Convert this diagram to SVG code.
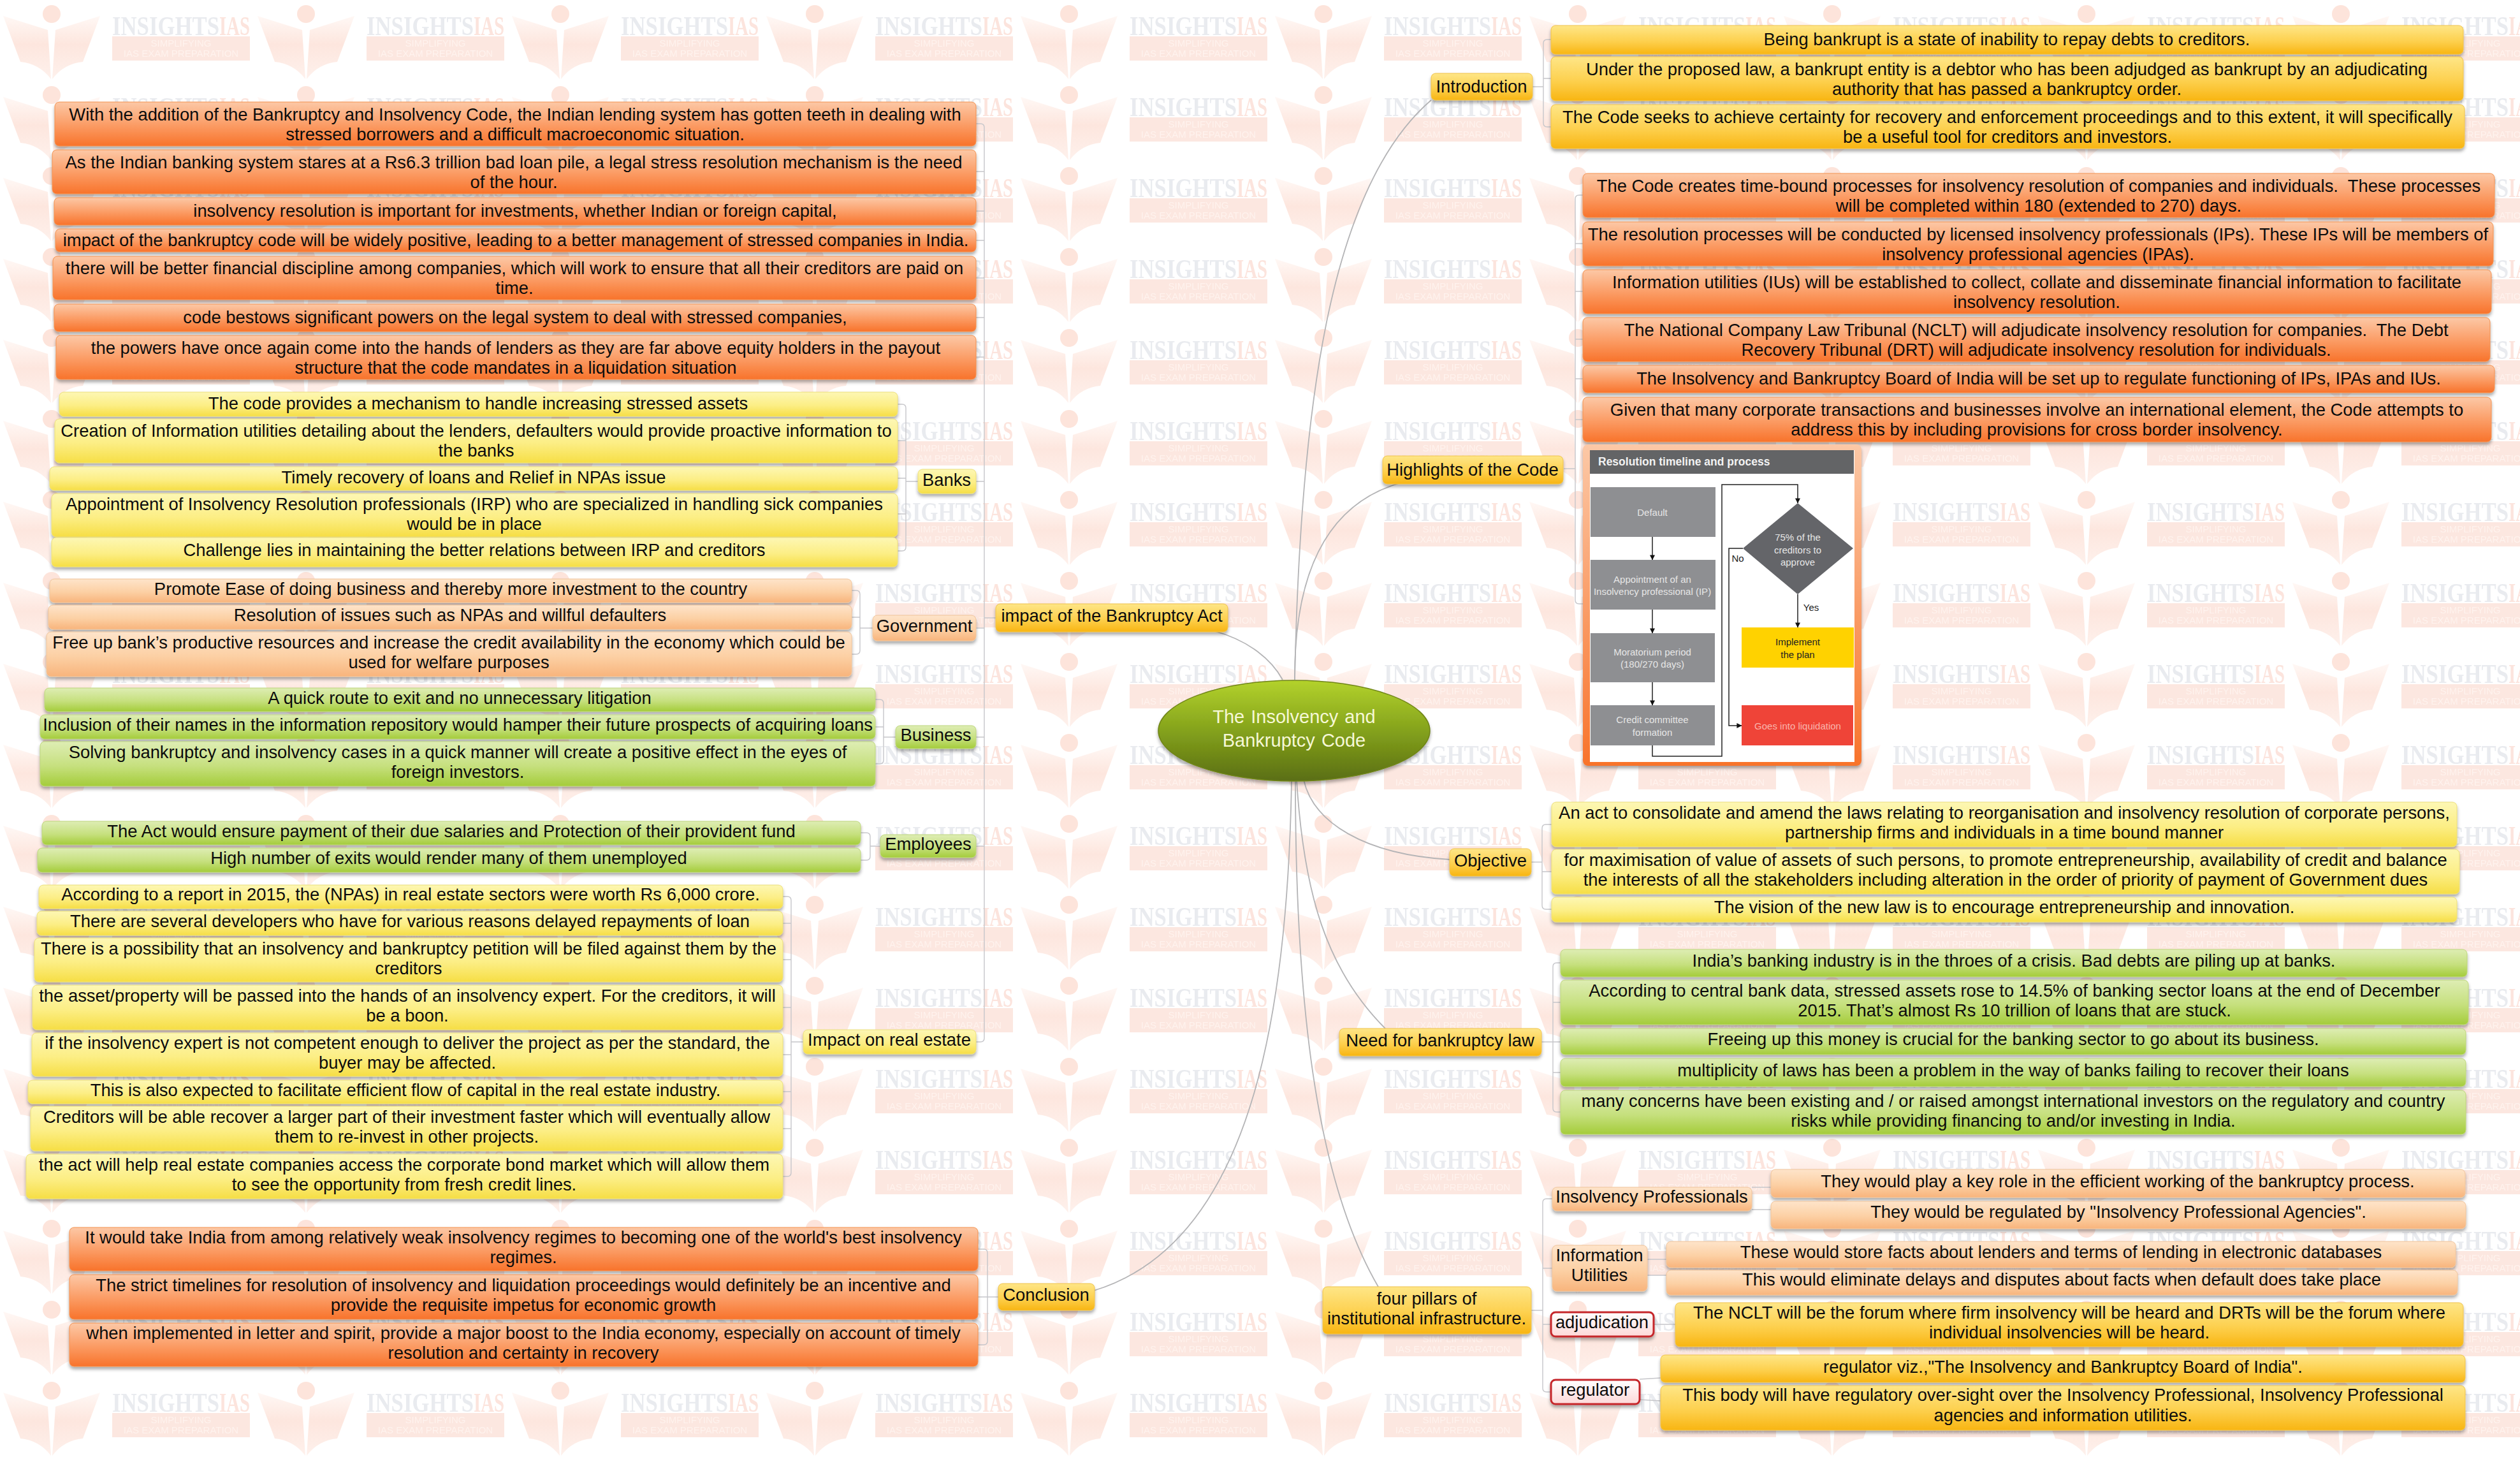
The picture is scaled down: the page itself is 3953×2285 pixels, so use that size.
<svg xmlns="http://www.w3.org/2000/svg" width="3953" height="2285" viewBox="0 0 3953 2285">
<style>
.t{font-family:"Liberation Sans",Arial,sans-serif;font-size:27.4px;text-anchor:middle;fill:#0c0c0c}
.b{filter:url(#sh);stroke-width:1}
.or{fill:url(#gOr);stroke:#f3914f}
.go{fill:url(#gGo);stroke:#efc24a}
.ye{fill:url(#gYe);stroke:#ecdf78}
.pe{fill:url(#gPe);stroke:#f0c49a}
.gr{fill:url(#gGr);stroke:#bcd67a}
.rd{fill:url(#gRd);stroke:#c5262b;stroke-width:3}
.c{fill:none;stroke:#c6c6ca;stroke-width:1.4}
.cv{fill:none;stroke:#b4b4b6;stroke-width:1.8}
.f{font-family:"Liberation Sans",Arial,sans-serif;font-size:15px;text-anchor:middle;fill:#e6e6e6}
.fl{fill:none;stroke:#222;stroke-width:1.5}
</style>
<defs>
<filter id="sh" x="-5%" y="-20%" width="110%" height="150%"><feDropShadow dx="0" dy="4" stdDeviation="2.5" flood-color="#000" flood-opacity=".33"/></filter>
<linearGradient id="gOr" x1="0" y1="0" x2="0" y2="1"><stop offset="0" stop-color="#fcc8a6"/><stop offset=".55" stop-color="#fb9a62"/><stop offset="1" stop-color="#f8732b"/></linearGradient>
<linearGradient id="gGo" x1="0" y1="0" x2="0" y2="1"><stop offset="0" stop-color="#fee687"/><stop offset=".55" stop-color="#fdd04e"/><stop offset="1" stop-color="#f8b512"/></linearGradient>
<linearGradient id="gYe" x1="0" y1="0" x2="0" y2="1"><stop offset="0" stop-color="#fdf7b4"/><stop offset=".55" stop-color="#fcee85"/><stop offset="1" stop-color="#f6de45"/></linearGradient>
<linearGradient id="gPe" x1="0" y1="0" x2="0" y2="1"><stop offset="0" stop-color="#fee4ca"/><stop offset=".55" stop-color="#fcd0a4"/><stop offset="1" stop-color="#f8b47c"/></linearGradient>
<linearGradient id="gGr" x1="0" y1="0" x2="0" y2="1"><stop offset="0" stop-color="#deedb4"/><stop offset=".55" stop-color="#c6e07e"/><stop offset="1" stop-color="#a4cc3a"/></linearGradient>
<linearGradient id="gRd" x1="0" y1="0" x2="0" y2="1"><stop offset="0" stop-color="#fff"/><stop offset="1" stop-color="#fdd8d8"/></linearGradient>
<linearGradient id="gEl" x1="0" y1="0" x2="0" y2="1"><stop offset="0" stop-color="#b3d22c"/><stop offset=".5" stop-color="#84a21c"/><stop offset="1" stop-color="#5a6e12"/></linearGradient>
<linearGradient id="gLogo" x1="0" y1="0" x2="0" y2="1"><stop offset="0" stop-color="#fff8f5"/><stop offset=".45" stop-color="#fde6de"/><stop offset="1" stop-color="#fef1ec"/></linearGradient>
<linearGradient id="gFr" x1="0" y1="0" x2="0" y2="1"><stop offset="0" stop-color="#fcc8a6"/><stop offset="1" stop-color="#f8732b"/></linearGradient>
<marker id="ar" viewBox="0 0 10 10" refX="9.5" refY="5" markerWidth="8" markerHeight="10" markerUnits="userSpaceOnUse" orient="auto"><path d="M0 0L10 5L0 10Z" fill="#111"/></marker>
<pattern id="wm" x="0" y="0" width="399" height="127" patternUnits="userSpaceOnUse">
<circle cx="81" cy="22" r="14" fill="#fde4db"/>
<path d="M5 25L75 47L80 124Q62 100 32 97Z M157 25L87 47L82 124Q100 100 130 97Z" fill="url(#gLogo)"/>
<text x="176" y="55" font-family="Liberation Serif,serif" font-weight="bold" font-size="42" textLength="168" lengthAdjust="spacingAndGlyphs" fill="#e9ebef">INSIGHTS</text>
<text x="344" y="55" font-family="Liberation Serif,serif" font-weight="bold" font-size="42" textLength="48" lengthAdjust="spacingAndGlyphs" fill="#fce4dd">IAS</text>
<rect x="176" y="57" width="216" height="38" fill="#fce7e0"/>
<text x="284" y="73" font-family="Liberation Sans,sans-serif" font-size="15" text-anchor="middle" fill="#fff3ee">SIMPLIFYING</text>
<text x="284" y="89" font-family="Liberation Sans,sans-serif" font-size="15" text-anchor="middle" fill="#fff3ee">IAS EXAM PREPARATION</text>
</pattern>
</defs>
<rect width="3953" height="2285" fill="#fff"/>
<rect id="watermark" width="3953" height="2285" fill="url(#wm)"/>
<g id="connectors">
<path class="cv" d="M2031 1066C2040 620 2090 290 2245 157"/>
<path class="cv" d="M2031 1066C2030 900 2080 790 2198 757"/>
<path class="cv" d="M2012 1066C1995 1035 1960 1005 1906 990"/>
<path class="cv" d="M2045 1223C2060 1290 2140 1340 2274 1348"/>
<path class="cv" d="M2034 1224C2045 1400 2080 1520 2173 1613"/>
<path class="cv" d="M2032 1224C2032 1600 2070 1860 2162 2018"/>
<path class="cv" d="M2026 1224C2020 1600 1960 1950 1716 2024"/>
<path class="c" d="M1562 969H1544M1531 194H1538Q1544 194 1544 200V1628Q1544 1634 1538 1634H1531M1531 269H1544M1531 331H1544M1531 377H1544M1531 436H1544M1531 498H1544M1531 560H1544M1531 755H1544M1531 985H1544M1531 1156H1544M1531 1327H1544"/>
<path class="c" d="M1440 755H1421M1408 634H1415Q1421 634 1421 640V858Q1421 864 1415 864H1408M1408 691H1421M1408 750H1421M1408 806H1421"/>
<path class="c" d="M1369 985H1349M1336 926H1343Q1349 926 1349 932V1020Q1349 1026 1343 1026H1336M1336 968H1349"/>
<path class="c" d="M1405 1156H1386M1373 1097H1380Q1386 1097 1386 1103V1192Q1386 1198 1380 1198H1373M1373 1140H1386"/>
<path class="c" d="M1381 1327H1365M1350 1306H1359Q1365 1306 1365 1312V1343Q1365 1349 1359 1349H1350"/>
<path class="c" d="M1260 1634H1241M1228 1406H1235Q1241 1406 1241 1412V1839Q1241 1845 1235 1845H1228M1228 1448H1241M1228 1505H1241M1228 1580H1241M1228 1654H1241M1228 1712H1241M1228 1770H1241"/>
<path class="c" d="M1566 2034H1549M1534 1959H1543Q1549 1959 1549 1965V2103Q1549 2109 1543 2109H1534M1534 2034H1549"/>
<path class="c" d="M2404 136H2421M2433 62H2427Q2421 62 2421 68V193Q2421 199 2427 199H2433M2433 123H2421"/>
<path class="c" d="M2453 735H2471M2483 306H2477Q2471 306 2471 312V941Q2471 947 2477 947H2483M2483 382H2471M2483 457H2471M2483 532H2471M2483 594H2471M2483 658H2471"/>
<path class="c" d="M2402 1352H2419M2434 1293H2425Q2419 1293 2419 1299V1420Q2419 1426 2425 1426H2434M2434 1367H2419"/>
<path class="c" d="M2418 1634H2448M2448 1510H2442Q2436 1510 2436 1516V1738Q2436 1744 2442 1744H2448M2448 1572H2436M2448 1682H2436"/>
<path class="c" d="M2402 2055H2420M2435 1880H2426Q2420 1880 2420 1886V2177Q2420 2183 2426 2183H2433M2435 1989H2420M2433 2077H2420"/>
<path class="c" d="M2748 1862H2778M2748 1897H2778M2584 1975H2614M2584 2000H2614M2594 2077H2628M2572 2163L2605 2161M2572 2195L2605 2197"/>
</g>
<g id="impact-items">
<g id="i1"><rect class="b or" x="86" y="160" width="1445" height="69" rx="7"/><text class="t" x="808" y="189">With the addition of the Bankruptcy and Insolvency Code, the Indian lending system has gotten teeth in dealing with<tspan x="808" y="220">stressed borrowers and a difficult macroeconomic situation.</tspan></text></g>
<g id="i2"><rect class="b or" x="82" y="235" width="1449" height="69" rx="7"/><text class="t" x="806" y="264">As the Indian banking system stares at a Rs6.3 trillion bad loan pile, a legal stress resolution mechanism is the need<tspan x="806" y="295">of the hour.</tspan></text></g>
<g id="i3"><rect class="b or" x="85" y="310" width="1446" height="43" rx="7"/><text class="t" x="808" y="340">insolvency resolution is important for investments, whether Indian or foreign capital,</text></g>
<g id="i4"><rect class="b or" x="87" y="359" width="1444" height="36" rx="7"/><text class="t" x="809" y="386">impact of the bankruptcy code will be widely positive, leading to a better management of stressed companies in India.</text></g>
<g id="i5"><rect class="b or" x="83" y="402" width="1448" height="68" rx="7"/><text class="t" x="807" y="430">there will be better financial discipline among companies, which will work to ensure that all their creditors are paid on<tspan x="807" y="461">time.</tspan></text></g>
<g id="i6"><rect class="b or" x="85" y="477" width="1446" height="43" rx="7"/><text class="t" x="808" y="507">code bestows significant powers on the legal system to deal with stressed companies,</text></g>
<g id="i7"><rect class="b or" x="88" y="526" width="1443" height="69" rx="7"/><text class="t" x="809" y="555">the powers have once again come into the hands of lenders as they are far above equity holders in the payout<tspan x="809" y="586">structure that the code mandates in a liquidation situation</tspan></text></g>
</g>
<g id="banks">
<g id="banks-node"><rect class="b ye" x="1440" y="736" width="91" height="38" rx="7"/><text class="t" x="1485" y="762">Banks</text></g>
<g id="b1"><rect class="b ye" x="93" y="615" width="1315" height="38" rx="7"/><text class="t" x="750" y="642">The code provides a mechanism to handle increasing stressed assets</text></g>
<g id="b2"><rect class="b ye" x="86" y="657" width="1322" height="69" rx="7"/><text class="t" x="747" y="685">Creation of Information utilities detailing about the lenders, defaulters would provide proactive information to<tspan x="747" y="716">the banks</tspan></text></g>
<g id="b3"><rect class="b ye" x="78" y="732" width="1330" height="37" rx="7"/><text class="t" x="743" y="758">Timely recovery of loans and Relief in NPAs issue</text></g>
<g id="b4"><rect class="b ye" x="81" y="774" width="1327" height="68" rx="7"/><text class="t" x="744" y="800">Appointment of Insolvency Resolution professionals (IRP) who are specialized in handling sick companies<tspan x="744" y="831">would be in place</tspan></text></g>
<g id="b5"><rect class="b ye" x="81" y="843" width="1327" height="46" rx="7"/><text class="t" x="744" y="872">Challenge lies in maintaining the better relations between IRP and creditors</text></g>
</g>
<g id="government">
<g id="gov-node"><rect class="b pe" x="1369" y="965" width="162" height="40" rx="7"/><text class="t" x="1450" y="991">Government</text></g>
<g id="g1"><rect class="b pe" x="78" y="908" width="1258" height="37" rx="7"/><text class="t" x="707" y="933">Promote Ease of doing business and thereby more investment to the country</text></g>
<g id="g2"><rect class="b pe" x="76" y="949" width="1260" height="38" rx="7"/><text class="t" x="706" y="974">Resolution of issues such as NPAs and willful defaulters</text></g>
<g id="g3"><rect class="b pe" x="73" y="991" width="1263" height="70" rx="7"/><text class="t" x="704" y="1017">Free up bank’s productive resources and increase the credit availability in the economy which could be<tspan x="704" y="1048">used for welfare purposes</tspan></text></g>
</g>
<g id="business">
<g id="bus-node"><rect class="b gr" x="1405" y="1138" width="126" height="36" rx="7"/><text class="t" x="1468" y="1162">Business</text></g>
<g id="u1"><rect class="b gr" x="70" y="1079" width="1303" height="37" rx="7"/><text class="t" x="721" y="1104">A quick route to exit and no unnecessary litigation</text></g>
<g id="u2"><rect class="b gr" x="63" y="1121" width="1310" height="38" rx="7"/><text class="t" x="718" y="1146">Inclusion of their names in the information repository would hamper their future prospects of acquiring loans</text></g>
<g id="u3"><rect class="b gr" x="63" y="1163" width="1310" height="70" rx="7"/><text class="t" x="718" y="1189">Solving bankruptcy and insolvency cases in a quick manner will create a positive effect in the eyes of<tspan x="718" y="1220">foreign investors.</tspan></text></g>
</g>
<g id="employees">
<g id="emp-node"><rect class="b gr" x="1381" y="1309" width="150" height="36" rx="7"/><text class="t" x="1456" y="1333">Employees</text></g>
<g id="e1"><rect class="b gr" x="66" y="1288" width="1284" height="37" rx="7"/><text class="t" x="708" y="1313">The Act would ensure payment of their due salaries and Protection of their provident fund</text></g>
<g id="e2"><rect class="b gr" x="59" y="1330" width="1291" height="38" rx="7"/><text class="t" x="704" y="1355">High number of exits would render many of them unemployed</text></g>
</g>
<g id="real-estate">
<g id="re-node"><rect class="b ye" x="1260" y="1615" width="271" height="38" rx="7"/><text class="t" x="1395" y="1640">Impact on real estate</text></g>
<g id="r1"><rect class="b ye" x="61" y="1388" width="1167" height="37" rx="7"/><text class="t" x="644" y="1412">According to a report in 2015, the (NPAs) in real estate sectors were worth Rs 6,000 crore.</text></g>
<g id="r2"><rect class="b ye" x="58" y="1429" width="1170" height="38" rx="7"/><text class="t" x="643" y="1454">There are several developers who have for various reasons delayed repayments of loan</text></g>
<g id="r3"><rect class="b ye" x="54" y="1471" width="1174" height="69" rx="7"/><text class="t" x="641" y="1497">There is a possibility that an insolvency and bankruptcy petition will be filed against them by the<tspan x="641" y="1528">creditors</tspan></text></g>
<g id="r4"><rect class="b ye" x="51" y="1545" width="1177" height="70" rx="7"/><text class="t" x="639" y="1571">the asset/property will be passed into the hands of an insolvency expert. For the creditors, it will<tspan x="639" y="1602">be a boon.</tspan></text></g>
<g id="r5"><rect class="b ye" x="50" y="1620" width="1178" height="68" rx="7"/><text class="t" x="639" y="1645">if the insolvency expert is not competent enough to deliver the project as per the standard, the<tspan x="639" y="1676">buyer may be affected.</tspan></text></g>
<g id="r6"><rect class="b ye" x="44" y="1694" width="1184" height="37" rx="7"/><text class="t" x="636" y="1719">This is also expected to facilitate efficient flow of capital in the real estate industry.</text></g>
<g id="r7"><rect class="b ye" x="48" y="1735" width="1180" height="70" rx="7"/><text class="t" x="638" y="1761">Creditors will be able recover a larger part of their investment faster which will eventually allow<tspan x="638" y="1792">them to re-invest in other projects.</tspan></text></g>
<g id="r8"><rect class="b ye" x="41" y="1810" width="1187" height="70" rx="7"/><text class="t" x="634" y="1836">the act will help real estate companies access the corporate bond market which will allow them<tspan x="634" y="1867">to see the opportunity from fresh credit lines.</tspan></text></g>
</g>
<g id="impact-node"><rect class="b go" x="1562" y="947" width="364" height="44" rx="7"/><text class="t" x="1744" y="975">impact of the Bankruptcy Act</text></g>
<g id="conclusion">
<g id="con-node"><rect class="b go" x="1566" y="2013" width="151" height="42" rx="7"/><text class="t" x="1641" y="2040">Conclusion</text></g>
<g id="c1"><rect class="b or" x="109" y="1925" width="1425" height="68" rx="7"/><text class="t" x="821" y="1950">It would take India from among relatively weak insolvency regimes to becoming one of the world's best insolvency<tspan x="821" y="1981">regimes.</tspan></text></g>
<g id="c2"><rect class="b or" x="109" y="1999" width="1425" height="70" rx="7"/><text class="t" x="821" y="2025">The strict timelines for resolution of insolvency and liquidation proceedings would definitely be an incentive and<tspan x="821" y="2056">provide the requisite impetus for economic growth</tspan></text></g>
<g id="c3"><rect class="b or" x="109" y="2075" width="1425" height="68" rx="7"/><text class="t" x="821" y="2100">when implemented in letter and spirit, provide a major boost to the India economy, especially on account of timely<tspan x="821" y="2131">resolution and certainty in recovery</tspan></text></g>
</g>
<g id="introduction">
<g id="intro-node"><rect class="b go" x="2245" y="115" width="159" height="42" rx="7"/><text class="t" x="2324" y="145">Introduction</text></g>
<g id="n1"><rect class="b go" x="2433" y="40" width="1431" height="45" rx="7"/><text class="t" x="3148" y="71">Being bankrupt is a state of inability to repay debts to creditors.</text></g>
<g id="n2"><rect class="b go" x="2433" y="89" width="1431" height="69" rx="7"/><text class="t" x="3148" y="118">Under the proposed law, a bankrupt entity is a debtor who has been adjudged as bankrupt by an adjudicating<tspan x="3148" y="149">authority that has passed a bankruptcy order.</tspan></text></g>
<g id="n3"><rect class="b go" x="2433" y="164" width="1433" height="69" rx="7"/><text class="t" x="3149" y="193">The Code seeks to achieve certainty for recovery and enforcement proceedings and to this extent, it will specifically<tspan x="3149" y="224">be a useful tool for creditors and investors.</tspan></text></g>
</g>
<g id="highlights">
<g id="hl-node"><rect class="b go" x="2169" y="715" width="283" height="44" rx="7"/><text class="t" x="2310" y="746">Highlights of the Code</text></g>
<g id="h1"><rect class="b or" x="2483" y="272" width="1430" height="69" rx="7"/><text class="t" x="3198" y="301" xml:space="preserve">The Code creates time-bound processes for insolvency resolution of companies and individuals.  These processes<tspan x="3198" y="332">will be completed within 180 (extended to 270) days.</tspan></text></g>
<g id="h2"><rect class="b or" x="2483" y="348" width="1428" height="69" rx="7"/><text class="t" x="3197" y="377">The resolution processes will be conducted by licensed insolvency professionals (IPs). These IPs will be members of<tspan x="3197" y="408">insolvency professional agencies (IPAs).</tspan></text></g>
<g id="h3"><rect class="b or" x="2483" y="423" width="1425" height="69" rx="7"/><text class="t" x="3195" y="452">Information utilities (IUs) will be established to collect, collate and disseminate financial information to facilitate<tspan x="3195" y="483">insolvency resolution.</tspan></text></g>
<g id="h4"><rect class="b or" x="2483" y="498" width="1423" height="69" rx="7"/><text class="t" x="3194" y="527" xml:space="preserve">The National Company Law Tribunal (NCLT) will adjudicate insolvency resolution for companies.  The Debt<tspan x="3194" y="558">Recovery Tribunal (DRT) will adjudicate insolvency resolution for individuals.</tspan></text></g>
<g id="h5"><rect class="b or" x="2483" y="573" width="1430" height="43" rx="7"/><text class="t" x="3198" y="603">The Insolvency and Bankruptcy Board of India will be set up to regulate functioning of IPs, IPAs and IUs.</text></g>
<g id="h6"><rect class="b or" x="2483" y="623" width="1425" height="70" rx="7"/><text class="t" x="3195" y="652">Given that many corporate transactions and businesses involve an international element, the Code attempts to<tspan x="3195" y="683">address this by including provisions for cross border insolvency.</tspan></text></g>
<g id="flowchart">
<rect x="2483" y="697" width="437" height="504" rx="8" fill="url(#gFr)" filter="url(#sh)"/>
<rect x="2494" y="706" width="415" height="489" fill="#fff"/>
<rect x="2494" y="706" width="414" height="37" fill="#636466"/>
<text x="2507" y="730" font-family="Liberation Sans,sans-serif" font-size="17.5" font-weight="bold" fill="#f2f2f2">Resolution timeline and process</text>
<g fill="#8e8f92"><rect x="2495" y="764" width="196" height="78"/><rect x="2495" y="878" width="196" height="78"/><rect x="2495" y="993" width="195" height="77"/><rect x="2495" y="1106" width="195" height="63"/></g>
<path d="M2820 789L2907 860L2820 932L2734 860Z" fill="#646569"/>
<rect x="2732" y="984" width="176" height="63" fill="#ffd200"/>
<rect x="2732" y="1106" width="175" height="63" fill="#ef4438"/>
<path class="fl" marker-end="url(#ar)" d="M2592 842V878"/>
<path class="fl" marker-end="url(#ar)" d="M2592 956V993"/>
<path class="fl" marker-end="url(#ar)" d="M2592 1070V1106"/>
<path class="fl" marker-end="url(#ar)" d="M2592 1169V1186H2701V760H2820V789"/>
<path class="fl" marker-end="url(#ar)" d="M2820 932V984"/>
<path class="fl" marker-end="url(#ar)" d="M2734 860H2712V1138H2732"/>
<text class="f" x="2592" y="809">Default</text>
<text class="f" x="2592" y="914">Appointment of an<tspan x="2592" y="933">Insolvency professional (IP)</tspan></text>
<text class="f" x="2592" y="1028">Moratorium period<tspan x="2592" y="1047">(180/270 days)</tspan></text>
<text class="f" x="2592" y="1134">Credit committee<tspan x="2592" y="1154">formation</tspan></text>
<text class="f" x="2820" y="848">75% of the<tspan x="2820" y="868">creditors to</tspan><tspan x="2820" y="887">approve</tspan></text>
<text class="f" x="2820" y="1012" style="fill:#222">Implement<tspan x="2820" y="1032">the plan</tspan></text>
<text class="f" x="2820" y="1144" style="fill:#f9b4ac">Goes into liquidation</text>
<text class="f" x="2726" y="881" style="fill:#222">No</text>
<text class="f" x="2841" y="958" style="fill:#222">Yes</text>
</g>
</g>
<g id="objective">
<g id="obj-node"><rect class="b go" x="2274" y="1331" width="128" height="43" rx="7"/><text class="t" x="2338" y="1359">Objective</text></g>
<g id="o1"><rect class="b ye" x="2434" y="1258" width="1420" height="70" rx="7"/><text class="t" x="3144" y="1284">An act to consolidate and amend the laws relating to reorganisation and insolvency resolution of corporate persons,<tspan x="3144" y="1315">partnership firms and individuals in a time bound manner</tspan></text></g>
<g id="o2"><rect class="b ye" x="2434" y="1332" width="1424" height="70" rx="7"/><text class="t" x="3146" y="1358">for maximisation of value of assets of such persons, to promote entrepreneurship, availability of credit and balance<tspan x="3146" y="1389">the interests of all the stakeholders including alteration in the order of priority of payment of Government dues</tspan></text></g>
<g id="o3"><rect class="b ye" x="2434" y="1407" width="1420" height="39" rx="7"/><text class="t" x="3144" y="1432">The vision of the new law is to encourage entrepreneurship and innovation.</text></g>
</g>
<g id="need">
<g id="need-node"><rect class="b go" x="2101" y="1613" width="317" height="43" rx="7"/><text class="t" x="2259" y="1641">Need for bankruptcy law</text></g>
<g id="d1"><rect class="b gr" x="2448" y="1489" width="1422" height="43" rx="7"/><text class="t" x="3159" y="1516">India’s banking industry is in the throes of a crisis. Bad debts are piling up at banks.</text></g>
<g id="d2"><rect class="b gr" x="2448" y="1537" width="1424" height="70" rx="7"/><text class="t" x="3160" y="1563">According to central bank data, stressed assets rose to 14.5% of banking sector loans at the end of December<tspan x="3160" y="1594">2015. That’s almost Rs 10 trillion of loans that are stuck.</tspan></text></g>
<g id="d3"><rect class="b gr" x="2448" y="1613" width="1420" height="41" rx="7"/><text class="t" x="3158" y="1639">Freeing up this money is crucial for the banking sector to go about its business.</text></g>
<g id="d4"><rect class="b gr" x="2448" y="1660" width="1420" height="44" rx="7"/><text class="t" x="3158" y="1688">multiplicity of laws has been a problem in the way of banks failing to recover their loans</text></g>
<g id="d5"><rect class="b gr" x="2448" y="1710" width="1420" height="69" rx="7"/><text class="t" x="3158" y="1736">many concerns have been existing and / or raised amongst international investors on the regulatory and country<tspan x="3158" y="1767">risks while providing financing to and/or investing in India.</tspan></text></g>
</g>
<g id="pillars">
<g id="pil-node"><rect class="b go" x="2075" y="2018" width="327" height="74" rx="7"/><text class="t" x="2238" y="2046">four pillars of<tspan x="2238" y="2077">institutional infrastructure.</tspan></text></g>
<g id="p-ip"><rect class="b pe" x="2435" y="1862" width="313" height="37" rx="7"/><text class="t" x="2591" y="1886">Insolvency Professionals</text></g>
<g id="p1"><rect class="b pe" x="2778" y="1834" width="1089" height="44" rx="7"/><text class="t" x="3322" y="1862">They would play a key role in the efficient working of the bankruptcy process.</text></g>
<g id="p2"><rect class="b pe" x="2778" y="1884" width="1090" height="43" rx="7"/><text class="t" x="3323" y="1910">They would be regulated by "Insolvency Professional Agencies".</text></g>
<g id="p-iu"><rect class="b pe" x="2435" y="1953" width="149" height="72" rx="7"/><text class="t" x="2509" y="1978">Information<tspan x="2509" y="2009">Utilities</tspan></text></g>
<g id="p3"><rect class="b pe" x="2614" y="1947" width="1238" height="41" rx="7"/><text class="t" x="3233" y="1973">These would store facts about lenders and terms of lending in electronic databases</text></g>
<g id="p4"><rect class="b pe" x="2614" y="1992" width="1241" height="39" rx="7"/><text class="t" x="3234" y="2016">This would eliminate delays and disputes about facts when default does take place</text></g>
<g id="p-ad"><rect class="b rd" x="2433" y="2058" width="161" height="38" rx="7"/><text class="t" x="2513" y="2083">adjudication</text></g>
<g id="p5"><rect class="b go" x="2628" y="2043" width="1236" height="69" rx="7"/><text class="t" x="3246" y="2068">The NCLT will be the forum where firm insolvency will be heard and DRTs will be the forum where<tspan x="3246" y="2099">individual insolvencies will be heard.</tspan></text></g>
<g id="p-re"><rect class="b rd" x="2433" y="2164" width="139" height="38" rx="7"/><text class="t" x="2502" y="2189">regulator</text></g>
<g id="p6"><rect class="b go" x="2605" y="2125" width="1262" height="43" rx="7"/><text class="t" x="3236" y="2153">regulator viz.,"The Insolvency and Bankruptcy Board of India".</text></g>
<g id="p7"><rect class="b go" x="2605" y="2173" width="1262" height="70" rx="7"/><text class="t" x="3236" y="2197">This body will have regulatory over-sight over the Insolvency Professional, Insolvency Professional<tspan x="3236" y="2229">agencies and information utilities.</tspan></text></g>
</g>
<g id="center">
<ellipse cx="2030" cy="1146" rx="213" ry="79" fill="url(#gEl)" stroke="#6f8518" stroke-width="1.5" filter="url(#sh)"/>
<text class="t" x="2030" y="1134" style="font-size:29px;fill:#f6f8d6" word-spacing="2">The Insolvency and<tspan x="2030" y="1171">Bankruptcy Code</tspan></text>
</g>
</svg>
